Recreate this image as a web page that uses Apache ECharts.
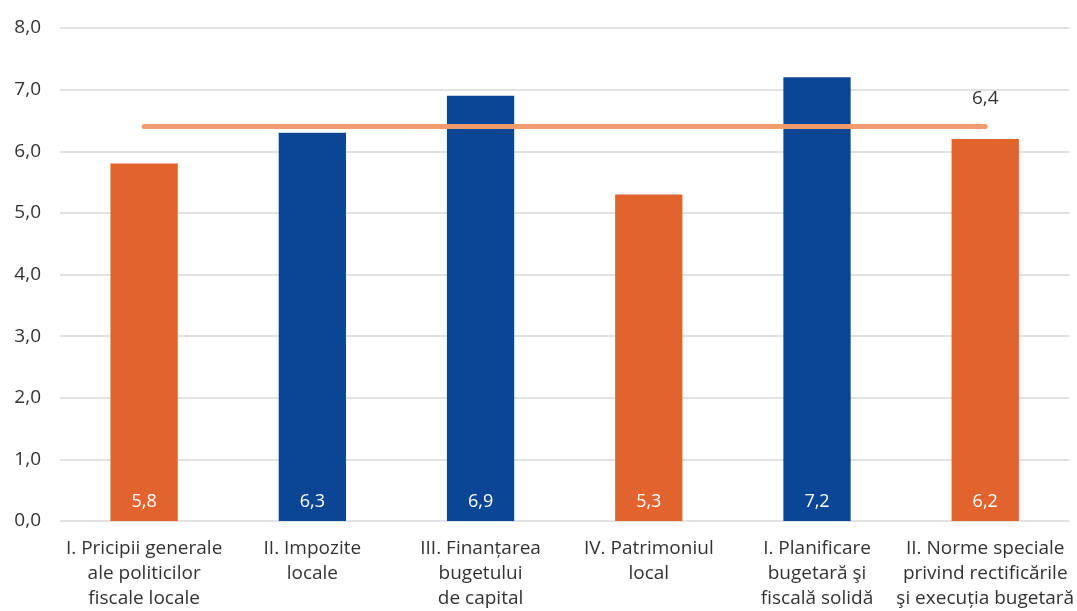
<!DOCTYPE html>
<html>
<head>
<meta charset="utf-8">
<script src="https://cdn.jsdelivr.net/npm/echarts@6/dist/echarts.min.js"></script>
<style>
  html, body { margin: 0; padding: 0; background: #fff; }
  #chart { width: 1077px; height: 611px; }
</style>
</head>
<body>
<div id="chart"></div>
<script>
// Categories (sections) and their scores
const categories = [
  'I. Pricipii generale\nale politicilor\nfiscale locale',
  'II. Impozite\nlocale',
  'III. Finanțarea\nbugetului\nde capital',
  'IV. Patrimoniul\nlocal',
  'I. Planificare\nbugetară şi\nfiscală solidă',
  'II. Norme speciale\nprivind rectificările\nşi execuția bugetară'
];
const scores = [5.8, 6.3, 6.9, 5.3, 7.2, 6.2];
const barColors = ['#E2632D', '#0B4595', '#0B4595', '#E2632D', '#0B4595', '#E2632D'];
const averageLine = [6.4, 6.4, 6.4, 6.4, 6.4, 6.4];
const yTicks = { min: 0, max: 8, interval: 1 };

const fmt = v => Number(v).toFixed(1).replace('.', ',');
const FONT = '"Open Sans", "Noto Sans", sans-serif';

const chart = echarts.init(document.getElementById('chart'));
chart.setOption({
  animation: false,
  textStyle: { fontFamily: FONT },
  grid: { left: 60, right: 6, top: 28, bottom: 86 },
  xAxis: {
    type: 'category',
    data: categories,
    axisLine: { show: false },
    axisTick: { show: false },
    axisLabel: {
      interval: 0,
      color: '#333',
      fontSize: 19,
      lineHeight: 25,
      margin: 15,
      fontFamily: FONT
    }
  },
  yAxis: {
    type: 'value',
    min: yTicks.min,
    max: yTicks.max,
    interval: yTicks.interval,
    axisLine: { show: false },
    axisTick: { show: false },
    axisLabel: {
      color: '#333',
      fontSize: 19,
      margin: 19,
      fontFamily: FONT,
      formatter: fmt
    },
    splitLine: { lineStyle: { color: '#d9d9d9', width: 1.5 } }
  },
  series: [
    {
      type: 'bar',
      data: scores.map((v, i) => ({ value: v, itemStyle: { color: barColors[i] } })),
      barWidth: '40%',
      label: {
        show: true,
        position: 'insideBottom',
        distance: 10,
        color: '#fff',
        fontSize: 18,
        fontFamily: FONT,
        formatter: p => fmt(p.value)
      }
    },
    {
      type: 'line',
      data: averageLine.map((v, i) => ({
        value: v,
        label: {
          show: i === averageLine.length - 1,
          position: 'top',
          distance: 18,
          color: '#333',
          fontSize: 19,
          fontFamily: FONT,
          formatter: p => fmt(p.value)
        }
      })),
      symbol: 'circle',
      symbolSize: 1,
      itemStyle: { color: 'rgba(0,0,0,0)' },
      lineStyle: { color: '#F09A6E', width: 5, cap: 'round' },
      z: 5
    }
  ]
});
</script>
</body>
</html>
